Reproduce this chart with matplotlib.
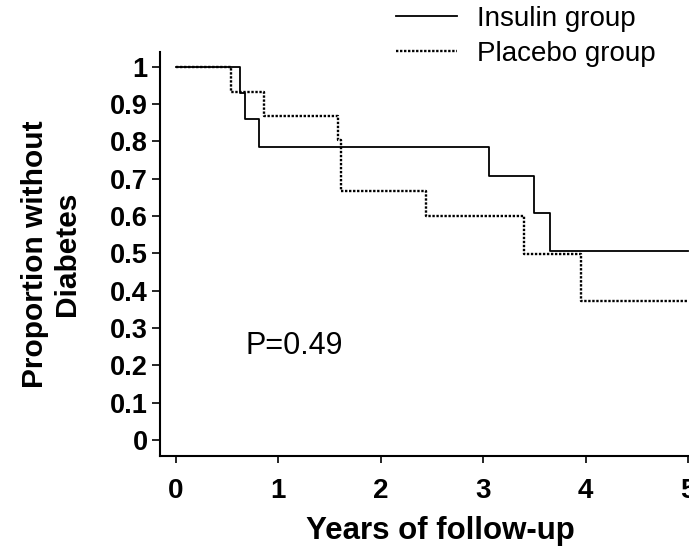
import matplotlib
matplotlib.use("Agg")
import matplotlib.pyplot as plt

plt.rcParams['font.family'] = ['Liberation Sans', 'DejaVu Sans']

# Kaplan-Meier step data (time in years, proportion without diabetes)
insulin_t = [0, 0.63, 0.67, 0.81, 3.06, 3.50, 3.65, 5.0]
insulin_s = [1.0, 0.930, 0.859, 0.785, 0.706, 0.607, 0.507, 0.507]
placebo_t = [0, 0.54, 0.86, 1.58, 1.61, 2.44, 3.40, 3.955, 5.0]
placebo_s = [1.0, 0.933, 0.868, 0.804, 0.668, 0.601, 0.499, 0.373, 0.373]

x_ticks = [0, 1, 2, 3, 4, 5]
y_ticks = [0, 0.1, 0.2, 0.3, 0.4, 0.5, 0.6, 0.7, 0.8, 0.9, 1]
y_ticklabels = ['0', '0.1', '0.2', '0.3', '0.4', '0.5', '0.6', '0.7', '0.8', '0.9', '1']

W, H = 689, 549
fig = plt.figure(figsize=(W / 100, H / 100), dpi=100)
ax = fig.add_axes([160 / W, 1 - 455.7 / H, (W - 160) / W, (455.7 - 51.7) / H])

ax.step(insulin_t, insulin_s, where='post', color='black', lw=1.3,
        label='Insulin group')
ax.step(placebo_t, placebo_s, where='post', color='black', lw=1.7,
        linestyle=(0, (1, 0.7)), label='Placebo group')

ax.set_xlim(-0.156, 5.01)
ax.set_ylim(-0.042, 1.04)

for s in ['top', 'right']:
    ax.spines[s].set_visible(False)
for s in ['left', 'bottom']:
    ax.spines[s].set_linewidth(1.5)

ax.set_xticks(x_ticks)
ax.set_xticklabels([str(v) for v in x_ticks], fontsize=20, fontweight='bold')
ax.set_yticks(y_ticks)
ax.set_yticklabels(y_ticklabels, fontsize=19.5, fontweight='bold')
ax.tick_params(axis='x', direction='out', length=5, width=1.2, pad=11)
ax.tick_params(axis='y', direction='out', length=6, width=1.2, pad=3)

fig.text(440 / W, 1 - 531 / H, 'Years of follow-up', ha='center', va='center',
         fontsize=22.5, fontweight='bold')
fig.text(51 / W, 1 - 254 / H, 'Proportion without\nDiabetes', ha='center',
         va='center', rotation=90, multialignment='center', fontsize=21.5,
         fontweight='bold', linespacing=1.2)

ax.text(246 / W, 1 - 346 / H, 'P=0.49', transform=fig.transFigure,
        ha='left', va='center', fontsize=22)

ax.legend(loc='upper left', bbox_to_anchor=(396 / W, 1 - 6 / H),
          bbox_transform=fig.transFigure, frameon=False, fontsize=20,
          handlelength=2.2, handletextpad=0.7, borderpad=0, borderaxespad=0,
          labelspacing=0.33)

fig.savefig('out.png', dpi=100)
